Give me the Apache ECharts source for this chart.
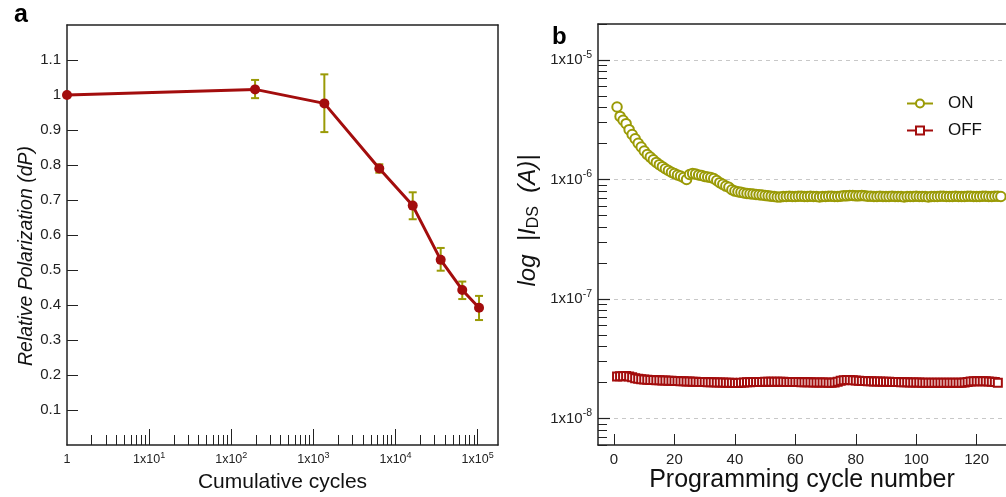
<!DOCTYPE html>
<html>
<head>
<meta charset="utf-8">
<script src="https://cdn.jsdelivr.net/npm/echarts/dist/echarts.min.js"></script>
<style>
  html, body { margin: 0; padding: 0; background: #fff; }
  #main { width: 1006px; height: 497px; }
</style>
</head>
<body>
<div id="main"></div>
<script>
// panel a: relative polarization vs cumulative cycles
const cycles = [1, 195, 1360, 6350, 16200, 35500, 65000, 104000];
const polar = [1.0, 1.016, 0.976, 0.790, 0.684, 0.529, 0.443, 0.392];
const errLow = [1.0, 0.991, 0.894, 0.778, 0.645, 0.498, 0.417, 0.357];
const errHigh = [1.0, 1.043, 1.059, 0.802, 0.722, 0.563, 0.467, 0.426];

// panel b: ON / OFF current per programming cycle (cycle number = index + 1)
const onCurrent = [
  4.04e-6, 3.37e-6, 3.13e-6, 2.93e-6, 2.61e-6, 2.38e-6, 2.19e-6, 2.01e-6, 1.87e-6, 1.73e-6,
  1.62e-6, 1.54e-6, 1.46e-6, 1.39e-6, 1.33e-6, 1.28e-6, 1.23e-6, 1.19e-6, 1.15e-6, 1.12e-6,
  1.09e-6, 1.07e-6, 1.04e-6, 1.00e-6, 1.10e-6, 1.12e-6, 1.11e-6, 1.09e-6, 1.08e-6, 1.06e-6,
  1.05e-6, 1.04e-6, 1.02e-6, 9.8e-7, 9.4e-7, 9.1e-7, 8.8e-7, 8.6e-7, 8.2e-7, 8.0e-7,
  7.9e-7, 7.8e-7, 7.7e-7, 7.65e-7, 7.6e-7, 7.55e-7, 7.5e-7, 7.45e-7, 7.4e-7, 7.35e-7,
  7.3e-7, 7.25e-7, 7.2e-7, 7.15e-7, 7.15e-7, 7.2e-7, 7.2e-7, 7.25e-7, 7.2e-7, 7.2e-7,
  7.25e-7, 7.25e-7, 7.2e-7, 7.2e-7, 7.25e-7, 7.2e-7, 7.2e-7, 7.15e-7, 7.2e-7, 7.2e-7,
  7.25e-7, 7.25e-7, 7.2e-7, 7.2e-7, 7.25e-7, 7.3e-7, 7.3e-7, 7.35e-7, 7.35e-7, 7.3e-7,
  7.3e-7, 7.35e-7, 7.3e-7, 7.25e-7, 7.25e-7, 7.2e-7, 7.2e-7, 7.25e-7, 7.2e-7, 7.2e-7,
  7.2e-7, 7.25e-7, 7.2e-7, 7.2e-7, 7.2e-7, 7.15e-7, 7.2e-7, 7.2e-7, 7.2e-7, 7.25e-7,
  7.2e-7, 7.2e-7, 7.2e-7, 7.15e-7, 7.2e-7, 7.2e-7, 7.2e-7, 7.25e-7, 7.25e-7, 7.2e-7,
  7.2e-7, 7.2e-7, 7.25e-7, 7.2e-7, 7.2e-7, 7.2e-7, 7.25e-7, 7.25e-7, 7.2e-7, 7.2e-7,
  7.2e-7, 7.25e-7, 7.25e-7, 7.2e-7, 7.2e-7, 7.25e-7, 7.25e-7, 7.2e-7
];
const offCurrent = [
  2.25e-8, 2.26e-8, 2.26e-8, 2.27e-8, 2.25e-8, 2.21e-8, 2.17e-8, 2.15e-8, 2.13e-8, 2.12e-8,
  2.11e-8, 2.10e-8, 2.10e-8, 2.09e-8, 2.09e-8, 2.08e-8, 2.08e-8, 2.07e-8, 2.07e-8, 2.06e-8,
  2.06e-8, 2.05e-8, 2.05e-8, 2.04e-8, 2.04e-8, 2.03e-8, 2.03e-8, 2.02e-8, 2.02e-8, 2.02e-8,
  2.01e-8, 2.01e-8, 2.01e-8, 2.00e-8, 2.00e-8, 2.00e-8, 1.99e-8, 1.99e-8, 1.99e-8, 1.98e-8,
  1.98e-8, 1.99e-8, 2.00e-8, 2.01e-8, 2.01e-8, 2.02e-8, 2.02e-8, 2.02e-8, 2.02e-8, 2.03e-8,
  2.03e-8, 2.03e-8, 2.03e-8, 2.03e-8, 2.03e-8, 2.03e-8, 2.02e-8, 2.02e-8, 2.02e-8, 2.02e-8,
  2.02e-8, 2.01e-8, 2.01e-8, 2.01e-8, 2.01e-8, 2.00e-8, 2.00e-8, 2.00e-8, 2.00e-8, 2.00e-8,
  1.99e-8, 1.99e-8, 2.00e-8, 2.03e-8, 2.07e-8, 2.09e-8, 2.10e-8, 2.10e-8, 2.09e-8, 2.08e-8,
  2.07e-8, 2.06e-8, 2.06e-8, 2.05e-8, 2.05e-8, 2.04e-8, 2.04e-8, 2.04e-8, 2.03e-8, 2.03e-8,
  2.03e-8, 2.02e-8, 2.02e-8, 2.02e-8, 2.01e-8, 2.01e-8, 2.01e-8, 2.00e-8, 2.00e-8, 2.00e-8,
  2.00e-8, 1.99e-8, 1.99e-8, 1.99e-8, 1.99e-8, 1.99e-8, 1.99e-8, 1.99e-8, 1.99e-8, 1.99e-8,
  1.99e-8, 1.99e-8, 1.99e-8, 1.99e-8, 1.99e-8, 2.00e-8, 2.02e-8, 2.04e-8, 2.05e-8, 2.05e-8,
  2.05e-8, 2.05e-8, 2.05e-8, 2.04e-8, 2.03e-8, 2.02e-8, 1.99e-8
];

// tick values
const cycleLabels = [1, 10, 100, 1000, 10000, 100000];
const cycleMajor = [10, 100, 1000, 10000, 100000];
const cycleMinor = [2, 3, 4, 5, 6, 7, 8, 9, 20, 30, 40, 50, 60, 70, 80, 90,
  200, 300, 400, 500, 600, 700, 800, 900, 2000, 3000, 4000, 5000, 6000, 7000, 8000, 9000,
  20000, 30000, 40000, 50000, 60000, 70000, 80000, 90000];
const polarTicks = [0.1, 0.2, 0.3, 0.4, 0.5, 0.6, 0.7, 0.8, 0.9, 1, 1.1];
const progTicks = [0, 20, 40, 60, 80, 100, 120];
const currentMajor = [1e-8, 1e-7, 1e-6, 1e-5];
const currentMinor = [6e-9, 7e-9, 8e-9, 9e-9,
  2e-8, 3e-8, 4e-8, 5e-8, 6e-8, 7e-8, 8e-8, 9e-8,
  2e-7, 3e-7, 4e-7, 5e-7, 6e-7, 7e-7, 8e-7, 9e-7,
  2e-6, 3e-6, 4e-6, 5e-6, 6e-6, 7e-6, 8e-6, 9e-6, 2e-5];

const FONT = 'Liberation Sans, Arial, Helvetica, sans-serif';
const RED = '#a30d0d';
const OLIVE = '#9a9a06';
const AXIS = '#222';

const chart = echarts.init(document.getElementById('main'));

function lineOnly(grid, pos) {
  return {
    gridIndex: grid, type: 'value', position: pos, min: 0, max: 1,
    axisLine: { show: true, onZero: false, lineStyle: { color: AXIS, width: 1.5 } },
    axisTick: { show: false }, axisLabel: { show: false }, splitLine: { show: false }
  };
}

function powLabel(v) {
  const e = Math.round(Math.log10(v));
  if (e === 0) return '{a|1}';
  return '{a|1x10}{s|' + e + '}';
}

const option = {
  animation: false,
  textStyle: { fontFamily: FONT },
  title: [
    { text: 'a', left: 9, top: -2, textStyle: { fontSize: 25, fontWeight: 'bold', color: '#000', fontFamily: FONT } },
    { text: 'b', left: 547, top: 20, textStyle: { fontSize: 24, fontWeight: 'bold', color: '#000', fontFamily: FONT } }
  ],
  legend: {
    data: ['ON', 'OFF'],
    orient: 'vertical',
    left: 901,
    top: 90,
    itemWidth: 26,
    itemHeight: 10,
    itemGap: 10,
    textStyle: { fontSize: 17, color: '#111', fontFamily: FONT, padding: [0, 0, 0, 10] }
  },
  grid: [
    { left: 67, top: 25, width: 431, height: 420, containLabel: false, outerBoundsMode: 'none' },
    { left: 598, top: 24, right: 0, height: 421, containLabel: false, outerBoundsMode: 'none' }
  ],
  xAxis: [
    {
      gridIndex: 0, type: 'log', min: 1, max: 177000, position: 'bottom',
      name: 'Cumulative cycles', nameLocation: 'middle', nameGap: 22,
      nameTextStyle: { fontSize: 21, color: '#111', fontFamily: FONT },
      axisLine: { show: true, onZero: false, lineStyle: { color: AXIS, width: 1.5 } },
      axisTick: { show: true, inside: true, length: 16, customValues: cycleMajor, lineStyle: { color: AXIS, width: 1 } },
      axisLabel: {
        customValues: cycleLabels, margin: 6, formatter: powLabel,
        rich: {
          a: { fontSize: 12.5, color: '#222', lineHeight: 18, fontFamily: FONT },
          s: { fontSize: 9, color: '#222', verticalAlign: 'top', fontFamily: FONT }
        }
      },
      splitLine: { show: false }
    },
    {
      gridIndex: 0, type: 'log', min: 1, max: 177000, position: 'bottom',
      axisLine: { show: false, onZero: false },
      axisTick: { show: true, inside: true, length: 10, customValues: cycleMinor, lineStyle: { color: AXIS, width: 1 } },
      axisLabel: { show: false }, splitLine: { show: false }
    },
    lineOnly(0, 'top'),
    {
      gridIndex: 1, type: 'value', min: -5.3, max: 129.7, position: 'bottom',
      name: 'Programming cycle number', nameLocation: 'middle', nameGap: 23, nameMoveOverlap: false,
      nameTextStyle: { fontSize: 25, color: '#111', fontFamily: FONT },
      axisLine: { show: true, onZero: false, lineStyle: { color: AXIS, width: 1.5 } },
      axisTick: { show: true, inside: true, length: 11, customValues: progTicks, lineStyle: { color: AXIS, width: 1 } },
      axisLabel: { customValues: progTicks, margin: 7, fontSize: 15, color: '#222', fontFamily: FONT },
      splitLine: { show: false }
    },
    lineOnly(1, 'top')
  ],
  yAxis: [
    {
      gridIndex: 0, type: 'value', min: 0, max: 1.2, position: 'left',
      name: 'Relative Polarization (dP)', nameLocation: 'middle', nameGap: 26, nameRotate: 90,
      nameTextStyle: { fontSize: 19.5, fontStyle: 'italic', color: '#111', fontFamily: FONT, padding: [0, 42, 0, 0] },
      axisLine: { show: true, onZero: false, lineStyle: { color: AXIS, width: 1.5 } },
      axisTick: { show: true, inside: true, length: 11, customValues: polarTicks, lineStyle: { color: AXIS, width: 1 } },
      axisLabel: {
        customValues: polarTicks, margin: 6, fontSize: 15, color: '#222', fontFamily: FONT,
        formatter: v => String(+v.toFixed(1))
      },
      splitLine: { show: false }
    },
    lineOnly(0, 'right'),
    {
      gridIndex: 1, type: 'log', min: 6e-9, max: 2e-5, position: 'left',
      name: '{i|log  |I}{d|DS}{i|  (A)|}', nameLocation: 'middle', nameGap: 56, nameRotate: 90,
      nameTextStyle: {
        padding: [0, 0, 0, 28],
        rich: {
          i: { fontSize: 24, fontStyle: 'italic', color: '#111', lineHeight: 28, fontFamily: FONT },
          d: { fontSize: 16, color: '#111', verticalAlign: 'bottom', fontFamily: FONT }
        }
      },
      axisLine: { show: true, onZero: false, lineStyle: { color: AXIS, width: 1.5 } },
      axisTick: { show: true, inside: true, length: 12, customValues: currentMajor, lineStyle: { color: AXIS, width: 1.2 } },
      axisLabel: {
        customValues: currentMajor, margin: 6, formatter: powLabel,
        rich: {
          a: { fontSize: 15, color: '#222', lineHeight: 21, fontFamily: FONT },
          s: { fontSize: 10.5, color: '#222', verticalAlign: 'top', fontFamily: FONT }
        }
      },
      splitLine: { show: true, lineStyle: { color: '#c8c8c8', width: 1, type: [4, 4] } }
    },
    {
      gridIndex: 1, type: 'log', min: 6e-9, max: 2e-5, position: 'left',
      axisLine: { show: false, onZero: false },
      axisTick: { show: true, inside: true, length: 9, customValues: currentMinor, lineStyle: { color: AXIS, width: 1 } },
      axisLabel: { show: false }, splitLine: { show: false }
    }
  ],
  series: [
    {
      type: 'custom', name: 'err', xAxisIndex: 0, yAxisIndex: 0, z: 2,
      data: cycles.map((c, i) => [c, errLow[i], errHigh[i]]),
      renderItem: function (params, api) {
        const lo = api.value(1), hi = api.value(2);
        if (lo === hi) return null;
        const p0 = api.coord([api.value(0), lo]);
        const p1 = api.coord([api.value(0), hi]);
        const cap = 4;
        const st = { stroke: OLIVE, lineWidth: 2 };
        return {
          type: 'group',
          children: [
            { type: 'line', shape: { x1: p0[0], y1: p0[1], x2: p1[0], y2: p1[1] }, style: st },
            { type: 'line', shape: { x1: p0[0] - cap, y1: p0[1], x2: p0[0] + cap, y2: p0[1] }, style: st },
            { type: 'line', shape: { x1: p1[0] - cap, y1: p1[1], x2: p1[0] + cap, y2: p1[1] }, style: st }
          ]
        };
      }
    },
    {
      type: 'line', name: 'dP', xAxisIndex: 0, yAxisIndex: 0, z: 3,
      data: cycles.map((c, i) => [c, polar[i]]),
      symbol: 'circle', symbolSize: 10,
      lineStyle: { color: RED, width: 3 },
      itemStyle: { color: RED }
    },
    {
      type: 'line', name: 'ON', xAxisIndex: 3, yAxisIndex: 2,
      data: onCurrent.map((v, i) => [i + 1, v]),
      symbol: 'emptyCircle', symbolSize: 9.5,
      lineStyle: { color: OLIVE, width: 2 },
      itemStyle: { color: OLIVE, borderWidth: 2.3 }
    },
    {
      type: 'line', name: 'OFF', xAxisIndex: 3, yAxisIndex: 2,
      data: offCurrent.map((v, i) => [i + 1, v]),
      symbol: 'emptyRect', symbolSize: 8,
      lineStyle: { color: RED, width: 2 },
      itemStyle: { color: RED, borderWidth: 3 }
    }
  ]
};

chart.setOption(option);
</script>
</body>
</html>
